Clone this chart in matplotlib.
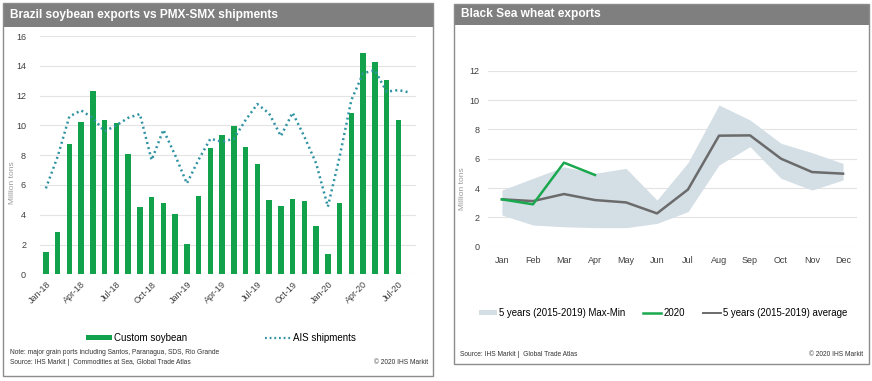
import matplotlib
matplotlib.use('Agg')
import matplotlib.pyplot as plt
from matplotlib.patches import Rectangle
from matplotlib.lines import Line2D
import pandas as pd

plt.rcParams['font.family'] = ['Liberation Sans', 'DejaVu Sans']

W, H = 872, 381

# Brazil soybean (million tons), Jan-18 .. Aug-20
br_months = pd.date_range('2018-01-01', '2020-08-01', freq='MS')
soybean = [1.52, 2.86, 8.75, 10.2, 12.3, 10.36, 10.18, 8.08, 4.54, 5.21, 4.79, 4.07,
           2.01, 5.23, 8.46, 9.35, 9.96, 8.52, 7.4, 4.99, 4.59, 5.06, 4.9, 3.27,
           1.36, 4.81, 10.85, 14.88, 14.23, 13.04, 10.36]
ais = [5.77, 7.9, 10.6, 11.0, 10.5, 9.6, 10.0, 10.5, 10.76, 7.67, 9.7, 8.0,
       6.1, 7.7, 9.1, 8.9, 9.1, 10.36, 11.43, 10.8, 9.28, 10.85, 9.24, 7.45,
       4.54, 7.9, 11.7, 13.5, 13.7, 12.26, 12.37, 12.2]

# Black Sea wheat (million tons)
months = ['Jan', 'Feb', 'Mar', 'Apr', 'May', 'Jun', 'Jul', 'Aug', 'Sep', 'Oct', 'Nov', 'Dec']
avg_5y = [3.23, 3.11, 3.59, 3.18, 3.02, 2.27, 3.9, 7.57, 7.59, 6.0, 5.09, 4.98]
max_5y = [3.86, 4.66, 5.45, 5.0, 5.34, 3.18, 5.73, 9.66, 8.64, 7.05, 6.41, 5.68]
min_5y = [2.16, 1.48, 1.36, 1.3, 1.3, 1.59, 2.39, 5.57, 6.82, 4.66, 3.86, 4.55]
wheat_2020 = [3.23, 2.89, 5.73, 4.89]

GREEN = '#12a24b'
TEAL = '#2f93a3'
GRID = '#e3e3e3'
BAR_GRAY = '#7f7f7f'
BAND = '#d3dee5'


def fx(x):
    return x / W


def fy(y):
    return 1 - y / H


def add_axes(fig, left, top, right, bottom):
    return fig.add_axes([fx(left), fy(bottom), (right - left) / W, (bottom - top) / H])


def panel(fig, left, top, right, bottom, title_bottom, title):
    fig.patches.append(Rectangle((fx(left), fy(title_bottom)), (right - left) / W,
                                 (title_bottom - top) / H, transform=fig.transFigure,
                                 facecolor=BAR_GRAY, edgecolor='none', zorder=0))
    fig.patches.append(Rectangle((fx(left), fy(bottom)), (right - left) / W,
                                 (bottom - top) / H, transform=fig.transFigure,
                                 facecolor='none', edgecolor='#8c8c8c', lw=1.0, zorder=1))
    fig.text(fx(left + 7), fy((top + title_bottom) / 2), title, color='white',
             fontsize=8.6, fontweight='bold', va='center', ha='left')


def style_axes(ax, ypad):
    for s in ax.spines.values():
        s.set_visible(False)
    ax.yaxis.grid(True, color=GRID, lw=0.8)
    ax.set_axisbelow(True)
    ax.tick_params(length=0, labelsize=6.5, colors='#404040', pad=4)
    ax.tick_params(axis='y', pad=ypad)


fig = plt.figure(figsize=(W / 100, H / 100), dpi=100)

# ---- left panel
panel(fig, 3, 3, 433, 376, 27, 'Brazil soybean exports vs PMX-SMX shipments')
ax1 = add_axes(fig, 40, 36, 416, 274.3)
style_axes(ax1, 10)
ax1.bar(range(len(soybean)), soybean, width=0.45, color=GREEN, zorder=2)
ax1.plot(range(len(ais)), ais, color=TEAL, lw=1.8, ls=(0, (0.8, 1.3)), zorder=3)
ax1.set_ylim(0, 16)
ax1.set_yticks(range(0, 17, 2))
ax1.set_xlim(-0.5, 31.5)
ticks = list(range(0, len(br_months), 3))
ax1.set_xticks(ticks)
ax1.set_xticklabels([br_months[i].strftime('%b-%y') for i in ticks], rotation=45,
                    ha='right', rotation_mode='anchor')
fig.text(fx(12), fy(183), 'Million tons', rotation=90, fontsize=6, color='#9a9a9a',
         ha='center', va='center')

h1 = [Rectangle((0, 0), 1, 1, facecolor=GREEN, edgecolor='none'),
      Line2D([], [], color=TEAL, lw=1.6, ls=(0, (0.8, 1.3)))]
fig.legend(h1, ['Custom soybean', 'AIS shipments'], loc='center',
           bbox_to_anchor=(fx(221), fy(338)), ncol=2, frameon=False, fontsize=7,
           handlelength=2.7, handleheight=0.45, handletextpad=0.2, columnspacing=8)
fig.text(fx(10), fy(353), 'Note: major grain ports including Santos, Paranagua, SDS, Rio Grande',
         fontsize=4.8, color='#333333', va='center')
fig.text(fx(10), fy(362), 'Source: IHS Markit |  Commodities at Sea, Global Trade Atlas',
         fontsize=4.8, color='#333333', va='center')
fig.text(fx(428), fy(362), '\u00a9 2020 IHS Markit', fontsize=4.8, color='#333333',
         va='center', ha='right')

# ---- right panel
panel(fig, 454, 4, 869, 364, 25, 'Black Sea wheat exports')
ax2 = add_axes(fig, 488, 70.7, 857, 246.7)
style_axes(ax2, 6)
x = range(len(months))
ax2.fill_between(x, min_5y, max_5y, color=BAND, lw=0, zorder=1)
ax2.plot(range(len(wheat_2020)), wheat_2020, color='#1aa84f', lw=1.8, zorder=3)
ax2.plot(x, avg_5y, color='#6b6b6b', lw=1.8, zorder=2)
ax2.set_ylim(0, 12)
ax2.set_yticks(range(0, 13, 2))
ax2.set_xlim(-0.45, 11.45)
ax2.set_xticks(list(x))
ax2.set_xticklabels(months)
ax2.tick_params(axis='x', pad=7)
fig.text(fx(462), fy(189), 'Million tons', rotation=90, fontsize=6, color='#9a9a9a',
         ha='center', va='center')

h2 = [Rectangle((0, 0), 1, 1, facecolor=BAND, edgecolor='none'),
      Line2D([], [], color='#1aa84f', lw=1.8),
      Line2D([], [], color='#6b6b6b', lw=1.4)]
fig.legend(h2, ['5 years (2015-2019) Max-Min', '2020', '5 years (2015-2019) average'],
           loc='center', bbox_to_anchor=(fx(663), fy(313)), ncol=3, frameon=False,
           fontsize=6.9, handlelength=1.9, handleheight=0.45, handletextpad=0.2,
           columnspacing=1.9)
fig.text(fx(460), fy(355), 'Source: IHS Markit |  Global Trade Atlas', fontsize=4.8,
         color='#333333', va='center')
fig.text(fx(863), fy(355), '\u00a9 2020 IHS Markit', fontsize=4.8, color='#333333',
         va='center', ha='right')

fig.savefig('out.png', dpi=100)
